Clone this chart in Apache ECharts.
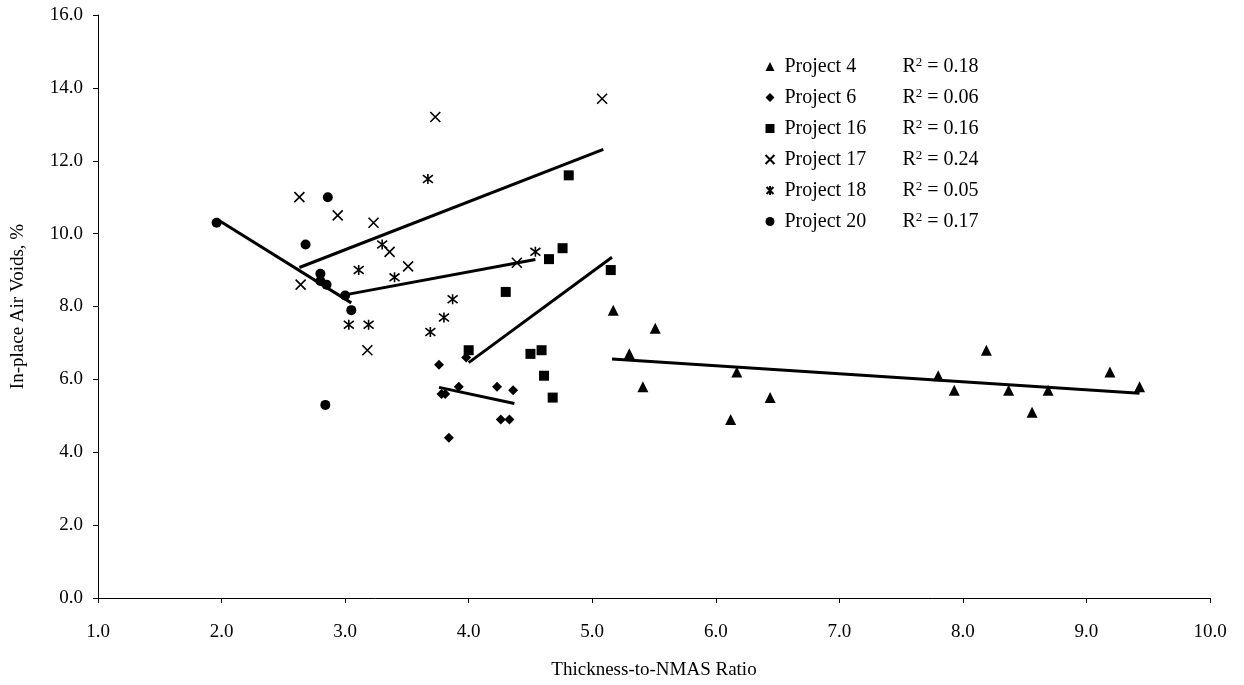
<!DOCTYPE html>
<html>
<head>
<meta charset="utf-8">
<script src="https://cdn.jsdelivr.net/npm/echarts@6/dist/echarts.min.js"></script>
<style>
  html, body { margin: 0; padding: 0; background: #fff; }
  #chart { width: 1244px; height: 685px; }
</style>
</head>
<body>
<div id="chart"></div>
<script>
// Measured points: [thickness-to-NMAS ratio, in-place air voids %]
const project4 = [[5.17,7.9],[5.51,7.4],[5.30,6.7],[5.41,5.8],[6.17,6.2],[6.44,5.5],[6.12,4.9],
  [7.80,6.1],[7.93,5.7],[8.19,6.8],[8.37,5.7],[8.56,5.1],[8.69,5.7],[9.19,6.2],[9.43,5.8]];
const project6 = [[3.76,6.4],[3.98,6.6],[3.78,5.6],[3.81,5.6],[3.92,5.8],[4.23,5.8],[4.36,5.7],
  [4.26,4.9],[4.33,4.9],[3.84,4.4]];
const project16 = [[4.81,11.6],[4.76,9.6],[4.65,9.3],[5.15,9.0],[4.30,8.4],[4.00,6.8],[4.50,6.7],
  [4.59,6.8],[4.61,6.1],[4.68,5.5]];
const project17 = [[5.08,13.7],[3.73,13.2],[2.63,11.0],[2.94,10.5],[3.23,10.3],[3.36,9.5],
  [3.51,9.1],[2.64,8.6],[3.18,6.8],[4.39,9.2]];
const project18 = [[3.67,11.5],[3.30,9.7],[3.11,9.0],[3.40,8.8],[3.87,8.2],[3.80,7.7],[3.69,7.3],
  [3.03,7.5],[3.19,7.5],[4.54,9.5]];
const project20 = [[1.96,10.3],[2.86,11.0],[2.68,9.7],[2.80,8.9],[2.80,8.7],[2.85,8.6],[3.00,8.3],
  [3.05,7.9],[2.84,5.3]];

// Linear trend line end points for each project
const trend4 = [[5.16,6.56],[9.43,5.62]];
const trend6 = [[3.76,5.78],[4.37,5.34]];
const trend16 = [[4.00,6.46],[5.16,9.35]];
const trend17 = [[2.63,9.07],[5.09,12.31]];
const trend18 = [[3.03,8.34],[4.54,9.29]];
const trend20 = [[1.96,10.40],[3.05,8.10]];

const projectNames = ['Project 4','Project 6','Project 16','Project 17','Project 18','Project 20'];
const rSquared = ['0.18','0.06','0.16','0.24','0.05','0.17'];

const FONT = '"Liberation Serif", "Times New Roman", serif';
const CROSS = 'path://M0,0L10,10M10,0L0,10';
const STAR = 'path://M0,0L10,10M10,0L0,10M5,-1.5L5,11.5';

function scatter(name, data, symbol, size, outline) {
  return {
    name, type: 'scatter', data, symbol, symbolSize: size,
    itemStyle: outline
      ? { color: 'none', borderColor: '#000', borderWidth: 1.6, opacity: 1 }
      : { color: '#000', opacity: 1 },
    z: 3
  };
}
function trend(data) {
  return {
    type: 'line', data, showSymbol: false, symbol: 'none',
    lineStyle: { color: '#000', width: 3 }, silent: true, z: 2
  };
}

const chart = echarts.init(document.getElementById('chart'));
chart.setOption({
  animation: false,
  backgroundColor: '#fff',
  textStyle: { fontFamily: FONT, color: '#000' },
  grid: { left: 98, right: 34, top: 15, bottom: 87 },
  xAxis: {
    type: 'value', min: 1, max: 10, interval: 1,
    name: 'Thickness-to-NMAS Ratio', nameLocation: 'middle', nameGap: 63,
    nameTextStyle: { fontFamily: FONT, fontSize: 19, color: '#000' },
    axisLine: { lineStyle: { color: '#000', width: 1 } },
    axisTick: { show: true, length: 5, lineStyle: { color: '#000' } },
    axisLabel: { fontFamily: FONT, fontSize: 19, color: '#000', margin: 25,
      formatter: v => v.toFixed(1) },
    splitLine: { show: false }
  },
  yAxis: {
    type: 'value', min: 0, max: 16, interval: 2,
    name: 'In-place Air Voids, %', nameLocation: 'middle', nameGap: 70,
    nameTextStyle: { fontFamily: FONT, fontSize: 19, color: '#000' },
    axisLine: { show: true, lineStyle: { color: '#000', width: 1 } },
    axisTick: { show: true, length: 5, lineStyle: { color: '#000' } },
    axisLabel: { fontFamily: FONT, fontSize: 19, color: '#000', margin: 15,
      formatter: v => v.toFixed(1) },
    splitLine: { show: false }
  },
  legend: {
    data: projectNames,
    orient: 'vertical', left: 758, top: 51,
    itemWidth: 9, itemHeight: 9, itemGap: 10.5,
    formatter: name => {
      const i = projectNames.indexOf(name);
      return '{n|' + name + '}{r|R}{s|2}{r| = ' + rSquared[i] + '}';
    },
    textStyle: {
      fontFamily: FONT, fontSize: 20, color: '#000',
      rich: {
        n: { fontFamily: FONT, fontSize: 20, width: 118, lineHeight: 21, padding: [0, 0, 0, 5] },
        r: { fontFamily: FONT, fontSize: 20, lineHeight: 21 },
        s: { fontFamily: FONT, fontSize: 13, lineHeight: 13, verticalAlign: 'top' }
      }
    }
  },
  series: [
    scatter('Project 4', project4, 'triangle', 11, false),
    scatter('Project 6', project6, 'diamond', 10, false),
    scatter('Project 16', project16, 'rect', 10, false),
    scatter('Project 17', project17, CROSS, 10, true),
    scatter('Project 18', project18, STAR, 10, true),
    scatter('Project 20', project20, 'circle', 10, false),
    trend(trend4), trend(trend6), trend(trend16),
    trend(trend17), trend(trend18), trend(trend20)
  ]
});
</script>
</body>
</html>
